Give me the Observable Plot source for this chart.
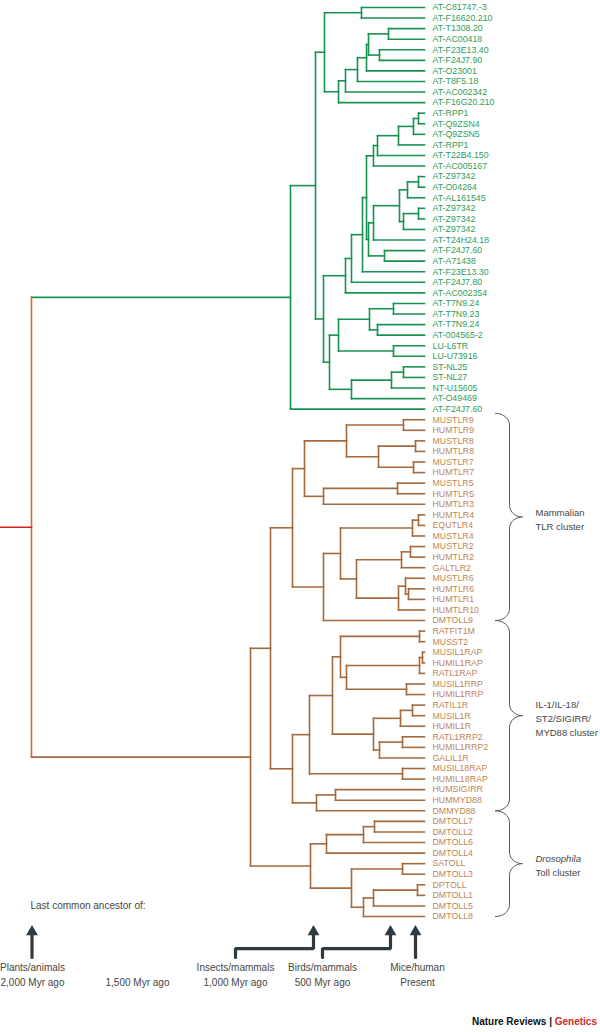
<!DOCTYPE html>
<html><head><meta charset="utf-8">
<script src="https://cdn.jsdelivr.net/npm/d3@7"></script>
<script src="https://cdn.jsdelivr.net/npm/@observablehq/plot@0.6"></script>
<style>
html,body{margin:0;padding:0;background:#fff;}
#wrap{position:relative;width:600px;height:1032px;font-family:"Liberation Sans",Arial,Helvetica,sans-serif;}
#credit{position:absolute;right:3px;top:1016px;font-size:10px;font-weight:bold;color:#111;}
#credit span{color:#d6281e;}
</style>
</head><body><div id="wrap"><div id="chart"></div><div id="credit">Nature Reviews | <span>Genetics</span></div></div>
<script>
// ---- leaf names (top to bottom) ----
const greenLeaves = ["AT-C81747.-3","AT-F16620.210","AT-T1308.20","AT-AC00418","AT-F23E13.40","AT-F24J7.90","AT-O23001","AT-T8F5.18","AT-AC002342","AT-F16G20.210","AT-RPP1","AT-Q9ZSN4","AT-Q9ZSN5","AT-RPP1","AT-T22B4.150","AT-AC005167","AT-Z97342","AT-O04264","AT-AL161545","AT-Z97342","AT-Z97342","AT-Z97342","AT-T24H24.18","AT-F24J7.60","AT-A71438","AT-F23E13.30","AT-F24J7.80","AT-AC002354","AT-T7N9.24","AT-T7N9.23","AT-T7N9.24","AT-004565-2","LU-L6TR","LU-U73916","ST-NL25","ST-NL27","NT-U15605","AT-O49469","AT-F24J7.60"];
const brownLeaves = ["MUSTLR9","HUMTLR9","MUSTLR8","HUMTLR8","MUSTLR7","HUMTLR7","MUSTLR5","HUMTLR5","HUMTLR3","HUMTLR4","EQUTLR4","MUSTLR4","MUSTLR2","HUMTLR2","GALTLR2","MUSTLR6","HUMTLR6","HUMTLR1","HUMTLR10","DMTOLL9","RATFIT1M","MUSST2","MUSIL1RAP","HUMIL1RAP","RATL1RAP","MUSIL1RRP","HUMIL1RRP","RATIL1R","MUSIL1R","HUMIL1R","RATL1RRP2","HUMIL1RRP2","GALIL1R","MUSIL18RAP","HUMIL18RAP","HUMSIGIRR","HUMMYD88","DMMYD88","DMTOLL7","DMTOLL2","DMTOLL6","DMTOLL4","SATOLL","DMTOLL3","DPTOLL","DMTOLL1","DMTOLL5","DMTOLL8"];

// ---- tree topology: N(depth, ...children); numbers are leaf numbers (1-based, whole list) ----
function N(h, ...c) { return {h, c}; }
const rootDepth = 31;
const leafDepth = 424;
const greenTree = N(290,
  N(315,
    N(324,
      N(361, 1, 2),
      N(338, N(345, N(357, N(366, N(368, N(388, 3, 4), N(379, 5, 6)), 7), 8), 9), 10)),
    N(323,
      N(345, N(351, N(362,
        N(366,
          N(373, N(377, N(398, N(413, N(418, 11, 12), 13), 14), 15), 16),
          N(368, N(373, N(399, N(407, N(418, 17, 18), 19), N(403, N(418, 20, 21), 22)), 23), N(384, 24, 25))),
        26), 27), 28),
      N(329,
        N(338, N(369, N(393, 29, 30), N(377, 31, 32)), N(393, 33, 34)),
        N(351, N(391, N(403, 35, 36), 37), 38)))),
  39);
const brownTree = N(250,
  N(270,
    N(292,
      N(304, N(346, N(403, 40, 41), N(378, N(415, 42, 43), N(413, 44, 45))), N(323, N(397, 46, 47), 48)),
      N(323, N(340, N(412, N(418, 49, 50), 51), N(356, N(401, N(410, 52, 53), 54), N(398, N(405, 55, N(408, 56, 57)), 58))), 59)),
    N(292,
      N(309,
        N(332,
          N(340, N(419, 60, 61), N(346, N(419, N(422, 62, 63), 64), N(406, 65, 66))),
          N(373, N(400, N(412, 67, 68), 69), N(379, N(402, 70, 71), 72))),
        N(402, 73, 74)),
      N(316, N(335, 75, 76), 77))),
  N(310,
    N(326, N(363, N(374, 78, 79), 80), 81),
    N(351, N(402, 82, 83), N(363, N(373, N(417, 84, 85), 86), 87))));

// ---- clusters (first leaf, last leaf) and labels ----
const clusterLabels = ["Mammalian\nTLR cluster", "IL-1/IL-18/\nST2/SIGIRR/\nMYD88 cluster", "Toll cluster"];
const clusterRanges = [[40, 59], [59, 77], [77, 87]];

// ---- time line ----
const ageLabels = ["2,000 Myr ago", "1,500 Myr ago", "1,000 Myr ago", "500 Myr ago", "Present"];
const agePos = [32, 137, 235, 322, 417];
const ancestorLabels = ["Plants/animals", "", "Insects/mammals", "Birds/mammals", "Mice/human"];
const arrowTargets = [31.5, null, 313, 390, 415];

// ---- colours ----
const C = {green: "#17924f", brown: "#a36a3d", rootV: "#e2603c", stub: "#d6231b",
           greenText: "#2f9d5a", brownText: "#bd8656", ink: "#454545", arrow: "#2e3a41"};

// ---- layout ----
const segs = [];
function layout(node, col) {
  if (typeof node === "number") return {x: leafDepth, y: node - 1};
  const kids = node.c.map(ch => layout(ch, col));
  const y = (kids[0].y + kids[kids.length - 1].y) / 2;
  segs.push({x1: node.h, x2: node.h, y1: kids[0].y, y2: kids[kids.length - 1].y, col});
  for (const k of kids) segs.push({x1: node.h, x2: k.x, y1: k.y, y2: k.y, col});
  return {x: node.h, y};
}
const g = layout(greenTree, C.green);
const b = layout(brownTree, C.brown);
segs.push({x1: rootDepth, x2: g.x, y1: g.y, y2: g.y, col: C.green});
segs.push({x1: rootDepth, x2: b.x, y1: b.y, y2: b.y, col: C.brown});
segs.push({x1: rootDepth, x2: rootDepth, y1: g.y, y2: b.y, col: C.rootV});
const rootY = (g.y + b.y) / 2;
segs.push({x1: 0, x2: rootDepth, y1: rootY, y2: rootY, col: C.stub});

const leaves = greenLeaves.map((name, i) => ({name, i, col: C.greenText}))
  .concat(brownLeaves.map((name, i) => ({name, i: i + greenLeaves.length, col: C.brownText})));

// braces
const bx0 = 495, bx1 = 509, bx2 = 522, ry = 1.1;
const braces = [];
clusterRanges.forEach(([a, z], k) => {
  const y0 = (k === 0 ? a - 1.6 : a - 1), y1 = z - 1, ym = (y0 + y1) / 2;
  const pts = [];
  const n = 10;
  for (let t = 0; t <= n; t++) { const th = t / n * Math.PI / 2; pts.push([bx0 + (bx1 - bx0) * Math.sin(th), y0 + ry * (1 - Math.cos(th))]); }
  for (let t = 0; t <= n; t++) { const th = t / n * Math.PI / 2; pts.push([bx1 + (bx2 - bx1) * (1 - Math.cos(th)), ym - ry + ry * Math.sin(th)]); }
  for (let t = n; t >= 0; t--) { const th = t / n * Math.PI / 2; pts.push([bx1 + (bx2 - bx1) * (1 - Math.cos(th)), ym + ry - ry * Math.sin(th)]); }
  for (let t = 0; t <= n; t++) { const th = t / n * Math.PI / 2; pts.push([bx0 + (bx1 - bx0) * Math.cos(th), y1 - ry + ry * Math.sin(th)]); }
  pts.forEach(([x, y]) => braces.push({x, y, k}));
  braces.push({mid: ym, k, label: clusterLabels[k]});
});
const braceMids = braces.filter(d => d.label !== undefined);
const braceLines = braces.filter(d => d.label === undefined);

// time annotations (y in leaf-row units)
const yHead = 84.96, yTip = 86.85, yElbow = 89.03, yBase = 89.88, yRow1 = 90.82, yRow2 = 92.24;
const shafts = [];
const heads = [];
arrowTargets.forEach((t, k) => {
  if (t == null) return;
  const start = Math.abs(agePos[k] - t) < 5 ? t : agePos[k];
  shafts.push({x: start, y: yBase, k});
  if (start !== t) { shafts.push({x: start, y: yElbow, k}); shafts.push({x: t, y: yElbow, k}); }
  shafts.push({x: t, y: yTip + 0.6, k});
  heads.push({x: t, y: yTip + 0.59});
});
const ages = ageLabels.map((a, k) => ({a, x: agePos[k], anc: ancestorLabels[k]}));

const chart = Plot.plot({
  width: 600, height: 1012,
  marginLeft: 0, marginRight: 175, marginTop: 7, marginBottom: 96,
  x: {domain: [0, 425], axis: null},
  y: {domain: [0, 86], reverse: true, axis: null},
  color: {type: "identity"},
  style: {fontFamily: "'Liberation Sans', Arial, Helvetica, sans-serif", background: "#fff", overflow: "visible"},
  marks: [
    Plot.link(segs, {x1: "x1", y1: "y1", x2: "x2", y2: "y2", stroke: "col", strokeWidth: 1.6, strokeLinecap: "square"}),
    Plot.text(leaves, {x: () => leafDepth, y: "i", text: "name", fill: "col", textAnchor: "start", dx: 8, fontSize: 8.8}),
    Plot.line(braceLines, {x: "x", y: "y", z: "k", stroke: "#555", strokeWidth: 1, curve: "linear"}),
    Plot.text(braceMids.filter(d => d.k < 2), {x: () => 535, y: "mid", text: "label", textAnchor: "start", fill: C.ink, fontSize: 9.5, lineHeight: 1.45, dy: 2}),
    Plot.text(braceMids.filter(d => d.k === 2), {x: () => 535, y: "mid", text: () => "Drosophila", textAnchor: "start", fill: C.ink, fontSize: 9.5, fontStyle: "italic", dy: -5}),
    Plot.text(braceMids.filter(d => d.k === 2), {x: () => 535, y: "mid", text: "label", textAnchor: "start", fill: C.ink, fontSize: 9.5, dy: 9}),
    Plot.text(["Last common ancestor of:"], {x: () => 30, y: () => yHead, text: d => d, textAnchor: "start", fill: C.ink, fontSize: 10}),
    Plot.line(shafts, {x: "x", y: "y", z: "k", stroke: C.arrow, strokeWidth: 3.2, strokeLinejoin: "miter"}),
    Plot.dot(heads, {x: "x", y: "y", symbol: "triangle", r: 4.4, fill: C.arrow}),
    Plot.text(ages, {x: "x", y: () => yRow1, text: "anc", fill: C.ink, fontSize: 10}),
    Plot.text(ages, {x: "x", y: () => yRow2, text: "a", fill: C.ink, fontSize: 10})
  ]
});
document.getElementById("chart").appendChild(chart);
</script>
</body></html>
